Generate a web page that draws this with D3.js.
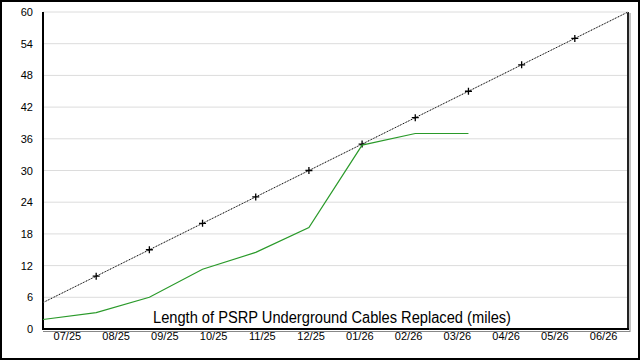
<html>
<head>
<script src="https://cdn.jsdelivr.net/npm/d3@7"></script>
<style>
  body { margin: 0; background: #fff; }
  svg { display: block; font-family: Arial, "Liberation Sans", sans-serif; }
</style>
</head>
<body>
<div id="chart"></div>
<script>
// month labels along the bottom
const months = ["07/25", "08/25", "09/25", "10/25", "11/25", "12/25",
                "01/26", "02/26", "03/26", "04/26", "05/26", "06/26"];
// cumulative target (dotted line with + markers)
const target = [5, 10, 15, 20, 25, 30, 35, 40, 45, 50, 55, 60];
// cumulative actual miles replaced (green line)
const actual = [1.8, 3.1, 6.0, 11.3, 14.5, 19.2, 34.8, 37.0, 37.0];
const yTicks = [0, 6, 12, 18, 24, 30, 36, 42, 48, 54, 60];
const title = "Length of PSRP Underground Cables Replaced (miles)";

const w = 640, h = 360;
const padLeft = 43, padRight = 628, padTop = 12, padBottom = 329;

const svg = d3.select("#chart").append("svg")
  .attr("width", w).attr("height", h);

// outer frame
svg.append("rect")
  .attr("x", 1).attr("y", 1).attr("width", w - 2).attr("height", h - 2)
  .attr("fill", "#fff").attr("stroke", "#000").attr("stroke-width", 2);

const yScale = d3.scaleLinear().domain([0, 60]).range([padBottom, padTop]);
const xBand = d3.scaleBand().domain(months).range([padLeft, padRight]);
const xPoint = d3.scalePoint().domain(d3.range(months.length)).range([padLeft, padRight]);

// gridlines
svg.append("g").selectAll("line")
  .data(yTicks.filter(d => d > 0))
  .enter().append("line")
  .attr("x1", padLeft).attr("x2", padRight)
  .attr("y1", d => yScale(d)).attr("y2", d => yScale(d))
  .attr("stroke", "#dcdcdc").attr("stroke-width", 1);

// y axis labels
const yAxis = d3.axisLeft(yScale).tickValues(yTicks).tickSize(0).tickPadding(10);
const gy = svg.append("g").attr("transform", "translate(" + padLeft + ",0)").call(yAxis);
gy.select(".domain").remove();
gy.selectAll("text").attr("font-size", 11).attr("fill", "#000")
  .attr("font-family", "Arial, 'Liberation Sans', sans-serif");

// x axis labels
const xAxis = d3.axisBottom(xBand).tickSize(0).tickPadding(3);
const gx = svg.append("g").attr("transform", "translate(0," + padBottom + ")").call(xAxis);
gx.select(".domain").remove();
gx.selectAll("text").attr("font-size", 11).attr("fill", "#000")
  .attr("font-family", "Arial, 'Liberation Sans', sans-serif");

// frame of the plot (shadowed right and bottom edges)
svg.append("line").attr("x1", padRight + 2).attr("x2", padRight + 2).attr("y1", padTop + 1).attr("y2", padBottom + 3)
  .attr("stroke", "#888").attr("stroke-width", 1);
svg.append("line").attr("x1", padLeft).attr("x2", padRight + 2).attr("y1", padBottom + 2.5).attr("y2", padBottom + 2.5)
  .attr("stroke", "#888").attr("stroke-width", 1);
svg.append("line").attr("x1", padRight).attr("x2", padRight).attr("y1", padTop).attr("y2", padBottom)
  .attr("stroke", "#222").attr("stroke-width", 2);
svg.append("line").attr("x1", padLeft).attr("x2", padRight + 1).attr("y1", padBottom).attr("y2", padBottom)
  .attr("stroke", "#000").attr("stroke-width", 2);
svg.append("line").attr("x1", padLeft).attr("x2", padLeft).attr("y1", padTop).attr("y2", padBottom + 1)
  .attr("stroke", "#000").attr("stroke-width", 2);

// title inside the plot
svg.append("text")
  .attr("x", 332).attr("y", 323)
  .attr("text-anchor", "middle")
  .attr("font-size", 16).attr("fill", "#000")
  .attr("textLength", 358).attr("lengthAdjust", "spacingAndGlyphs")
  .text(title);

const line = d3.line()
  .x((d, i) => xPoint(i))
  .y(d => yScale(d));

// target line
svg.append("path").datum(target)
  .attr("d", line).attr("fill", "none")
  .attr("stroke", "#aaa").attr("stroke-width", 1);
svg.append("path").datum(target)
  .attr("d", line).attr("fill", "none")
  .attr("stroke", "#000").attr("stroke-width", 1)
  .attr("stroke-dasharray", "1,2");

// + markers
svg.append("g").selectAll("path")
  .data(target.slice(1, -1))
  .enter().append("path")
  .attr("transform", (d, i) => "translate(" + xPoint(i + 1) + "," + yScale(d) + ")")
  .attr("d", "M-3.5,0H3.5M0,-3.5V3.5")
  .attr("stroke", "#000").attr("stroke-width", 1.3);

// actual line
svg.append("path").datum(actual)
  .attr("d", line).attr("fill", "none")
  .attr("stroke", "#2a9a2a").attr("stroke-width", 1.2);
</script>
</body>
</html>
